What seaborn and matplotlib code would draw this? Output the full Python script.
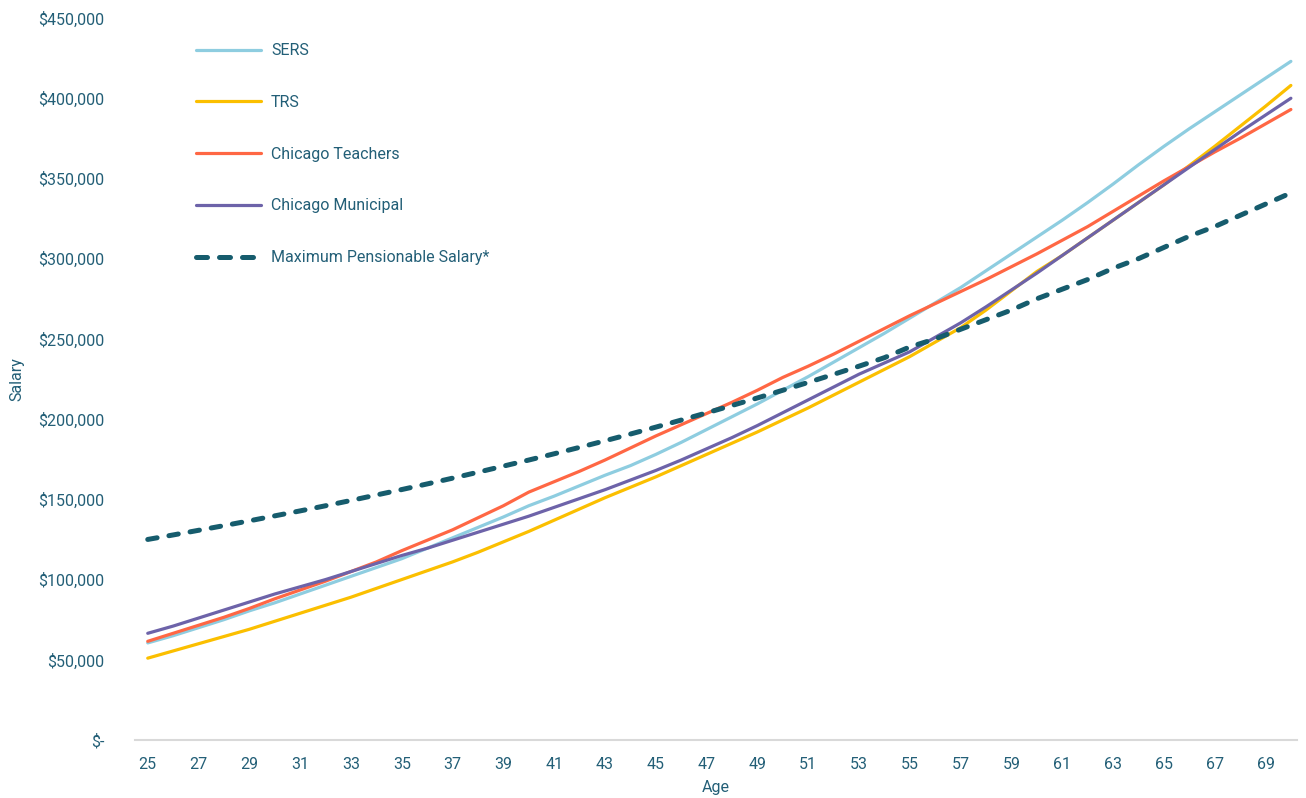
import seaborn as sns
import matplotlib.pyplot as plt
import pandas as pd
from matplotlib.ticker import FuncFormatter

# age axis
ages = list(range(25, 71))

# salary paths, thousands of dollars
sers = [60.5, 65, 70, 75, 80.5, 85.5, 91, 96.5, 102, 107.5,
        113, 119.5, 126, 132.5, 139, 146, 152, 158.5, 165, 171,
        178, 185.5, 193.5, 201.5, 209.5, 218, 226.5, 235.5, 244.5, 253.5,
        263, 272.5, 282, 292.5, 303, 313.5, 324, 335, 346.5, 358.5,
        370, 381, 391.5, 402, 412.5, 423]
trs = [51, 55.5, 60, 64.5, 69, 74, 79, 84, 89, 94.5,
       100, 105.5, 111, 117, 123.5, 130, 137, 144, 151, 157.5,
       164, 171, 178, 185, 192, 199.5, 207, 215, 223, 231,
       239, 248, 257, 268, 280, 292, 302, 313, 324, 335,
       346, 358, 370, 382.5, 395, 408]
chicago_teachers = [61.5, 66.5, 71.5, 76.5, 82, 88, 93.5, 99, 105, 111,
                    118, 124.5, 131, 138.5, 146, 154.5, 161, 167.5, 174.5, 182,
                    189.5, 196.5, 203.5, 210.5, 218, 226, 233, 240.5, 248.5, 256.5,
                    264.5, 272, 279.5, 287, 295, 303, 311.5, 320, 329.5, 339,
                    348.5, 357.5, 366.5, 375, 384, 393]
chicago_municipal = [66.5, 71, 76, 81, 86, 91, 95.5, 100, 105, 110,
                     115, 119.5, 124.5, 129.5, 134.5, 139.5, 145, 150.5, 156, 162,
                     168, 174.5, 181.5, 188.5, 196, 204, 212, 220, 228, 235,
                     242, 251, 260, 270, 280.5, 291, 302, 313, 324, 335,
                     346, 357, 368, 379, 389.5, 400]
max_pensionable = [125, 127.8, 130.7, 133.6, 136.6, 139.7, 142.8, 146, 149.3, 152.7,
                   156.1, 159.6, 163.2, 166.9, 170.7, 174.5, 178.4, 182.4, 186.5, 190.7,
                   195, 199.4, 203.9, 208.5, 213.2, 218, 222.9, 227.9, 233, 238.3,
                   245, 250, 256, 262, 268, 275, 281, 287, 294, 300,
                   307, 314, 320, 327, 334, 341]

labels = ["SERS", "TRS", "Chicago Teachers", "Chicago Municipal",
          "Maximum Pensionable Salary*"]
colors = ["#8ecde0", "#fbbf00", "#ff6744", "#6d63a9", "#165c6d"]
text_color = "#235f77"

df = pd.DataFrame({"Age": ages})
for lab, vals in zip(labels, [sers, trs, chicago_teachers, chicago_municipal, max_pensionable]):
    df[lab] = [v * 1000 for v in vals]

sns.set_style("white")
plt.rcParams["font.family"] = ["Roboto", "DejaVu Sans"]

fig = plt.figure(figsize=(13.06, 7.98), dpi=100)
ax = fig.add_axes([0.1034, 0.0727, 0.8897, 0.9047])

for lab, col in zip(labels, colors):
    if lab.startswith("Maximum"):
        sns.lineplot(data=df, x="Age", y=lab, ax=ax, color=col, linewidth=3.6,
                     label=lab)
        line = ax.lines[-1]
        line.set_dashes((1.9, 2.4))
        line.set_dash_capstyle("round")
    else:
        sns.lineplot(data=df, x="Age", y=lab, ax=ax, color=col, linewidth=2.3,
                     label=lab)

ax.set_xlim(24.5, 70.24)
ax.set_ylim(0, 450000)
ax.set_xticks(list(range(25, 70, 2)))
ax.set_yticks(list(range(0, 450001, 50000)))
ax.yaxis.set_major_formatter(FuncFormatter(lambda v, p: "$-" if v == 0 else f"${v:,.0f}"))

for s in ["top", "right", "left"]:
    ax.spines[s].set_visible(False)
ax.spines["bottom"].set_color("#d9d9d9")
ax.spines["bottom"].set_linewidth(1.5)

ax.tick_params(axis="both", length=0, labelsize=11.5, labelcolor=text_color)
ax.tick_params(axis="y", pad=22)
ax.tick_params(axis="x", pad=12)

ax.set_xlabel("Age", color=text_color, fontsize=11.5, labelpad=6)
ax.set_ylabel("Salary", color=text_color, fontsize=11.5, labelpad=10)

leg = ax.legend(loc="upper left", bbox_to_anchor=(0.04, 0.985), frameon=False,
                fontsize=11.5, labelcolor=text_color, handlelength=4.1,
                handletextpad=0.6, labelspacing=2.3)
leg.get_lines()[-1].set_dashes((2.2, 2.4))
leg.get_lines()[-1].set_dash_capstyle("round")

plt.savefig("out.png", dpi=100)
plt.close()
